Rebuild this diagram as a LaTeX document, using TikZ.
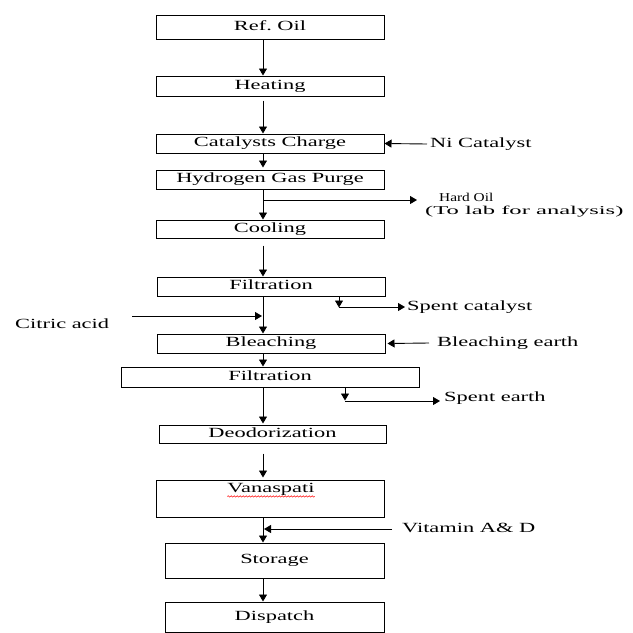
\documentclass[tikz,border=0pt]{standalone}
\usepackage{graphicx}
\usepackage{fontspec}
\setmainfont[FakeStretch=1.6]{Liberation Serif}
\usetikzlibrary{arrows.meta,decorations.pathmorphing}
\begin{document}
\begin{tikzpicture}[x=1pt,y=-1pt,
  box/.style={draw=black, line width=1pt, inner sep=0pt, text height=9.5pt, text depth=3pt, font=\fontsize{14}{16}\selectfont},
  lbl/.style={anchor=west, inner sep=0pt, text height=9.5pt, text depth=3pt, font=\fontsize{14}{16}\selectfont},
  small/.style={anchor=west, inner sep=0pt, text height=8pt, text depth=2.5pt, font=\fontsize{12}{14}\selectfont},
  arr/.style={draw=black, line width=0.9pt, -{Triangle[length=7pt,width=8pt]}}]
\useasboundingbox[fill=white] (0,0) rectangle (633,633);
\coordinate (m) at (263,0);
\coordinate (sc) at (339,0);
\coordinate (se) at (345,0);

% boxes
\node[box, minimum width=228pt, minimum height=24pt] (ref) at (270,27) {Ref.\ Oil};
\node[box, minimum width=228pt, minimum height=20pt] (heat) at (270,86) {Heating};
\node[box, minimum width=228pt, minimum height=19pt] (cat) at (270,143.5) {Catalysts Charge};
\node[box, minimum width=228pt, minimum height=19pt] (hyd) at (270,179.5) {Hydrogen Gas Purge};
\node[box, minimum width=228pt, minimum height=18pt] (cool) at (270,229) {Cooling};
\node[box, minimum width=228pt, minimum height=19pt] (filt1) at (271,286.5) {Filtration};
\node[box, minimum width=228pt, minimum height=19pt] (bleach) at (271,343.5) {Bleaching};
\node[box, minimum width=298pt, minimum height=20pt] (filt2) at (270,377) {Filtration};
\node[box, minimum width=227pt, minimum height=18pt] (deo) at (272.5,434) {Deodorization};
\node[box, minimum width=228pt, minimum height=37pt] (van) at (270,498.5) {};
\node[lbl, anchor=center] (vantext) at (271,489) {Vanaspati};
\node[box, minimum width=219pt, minimum height=35pt] (stor) at (274.5,560.5) {Storage};
\node[box, minimum width=219pt, minimum height=30pt] (disp) at (274.5,617) {Dispatch};

% side labels
\node[lbl] (ni) at (430,144) {Ni Catalyst};
\node[small] (hard) at (439,199) {\scalebox{0.8}[1]{Hard Oil}};
\node[small] (tolab) at (425,212) {\scalebox{1.28}[1]{(To lab for analysis)}};
\node[lbl] (spentcat) at (407,307) {Spent catalyst};
\node[lbl] (citric) at (15,325) {Citric acid};
\node[lbl] (bearth) at (437,343) {Bleaching earth};
\node[lbl] (spentearth) at (444,398) {Spent earth};
\node[lbl] (vit) at (402,529) {Vitamin A\& D};

% spell-check squiggle
\draw[red, line width=0.5pt, decorate, decoration={snake, amplitude=0.7pt, segment length=3pt}]
  ([yshift=-1pt]vantext.south west) -- ([yshift=-1pt]vantext.south east);

% main flow
\draw[arr] (ref.south -| m) -- (heat.north -| m);
\draw[arr] ([yshift=-4pt]heat.south -| m) -- (cat.north -| m);
\draw[arr] (cat.south -| m) -- ([yshift=2pt]hyd.north -| m);
\draw[arr] (hyd.south -| m) -- (cool.north -| m);
\coordinate (hb) at (263,200);
\coordinate (hend) at (417,200);
\draw[arr] (hb) -- (hend);
\draw[arr] ([yshift=-7pt]cool.south -| m) -- (filt1.north -| m);
\draw[arr] (filt1.south -| m) -- (bleach.north -| m);
\draw[arr] (bleach.south -| m) -- (filt2.north -| m);
\draw[arr] (filt2.south -| m) -- ([yshift=1pt]deo.north -| m);
\draw[arr] ([yshift=-10pt]deo.south -| m) -- ([yshift=2pt]van.north -| m);
\draw[arr] (van.south -| m) -- (stor.north -| m);
\draw[arr] (stor.south -| m) -- (disp.north -| m);

% side streams
\draw[arr] ([xshift=-3pt]ni.west) -- (cat.east);
\coordinate (ca) at (132,316);
\draw[arr] (ca) -- ([xshift=-1pt]ca -| m);
\draw[arr] (filt1.south -| sc) -- ++(0,11);
\coordinate (sch) at (339,307);
\draw[arr] (sch) -- ([xshift=-2pt]spentcat.west);
\draw[arr] ([xshift=-8pt]bearth.west) -- ([xshift=2pt]bleach.east);
\draw[arr] (filt2.south -| se) -- ++(0,13);
\coordinate (seh) at (345,401);
\draw[arr] (seh) -- ([xshift=-4pt]seh -| spentearth.west);
\draw[arr] ([xshift=-10pt]vit.west) -- ([xshift=1pt]vit.west -| m);
\end{tikzpicture}
\end{document}
